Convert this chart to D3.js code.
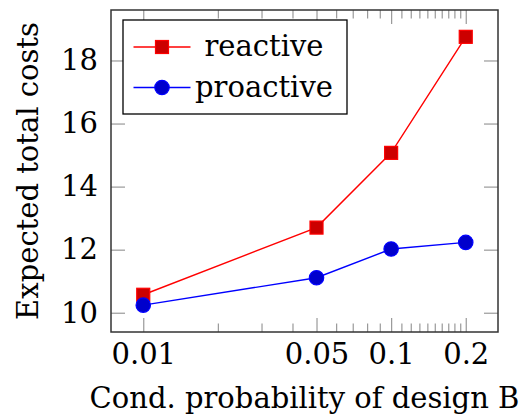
<!DOCTYPE html>
<html>
<head>
<meta charset="utf-8">
<script src="https://cdn.jsdelivr.net/npm/d3@7"></script>
<style>
  body { margin: 0; background: #fff; }
</style>
</head>
<body>
<div id="chart"></div>
<script>
// data
var probs = [0.01, 0.05, 0.1, 0.2];
var reactive = [10.57, 12.70, 15.07, 18.75];
var proactive = [10.24, 11.11, 12.02, 12.23];
var yTicks = [10, 12, 14, 16, 18];
var xTicks = [0.01, 0.05, 0.1, 0.2];
var xMinor = [0.02, 0.03, 0.04, 0.06, 0.07, 0.08, 0.09,
	0.11, 0.12, 0.13, 0.14, 0.15, 0.16, 0.17, 0.18, 0.19];
var seriesNames = ["reactive", "proactive"];

var svgWidth = 519;
var svgHeight = 417;
var margin = {top: 10, right: 21, bottom: 85, left: 111};
var width = svgWidth - margin.left - margin.right;
var height = svgHeight - margin.top - margin.bottom;
var fs = 29;
var serif = "DejaVu Serif";

var svg = d3.select("#chart")
	.append("svg")
	.attr("width", svgWidth)
	.attr("height", svgHeight)
	.attr("font-family", serif)
	.append("g")
	.attr("transform", "translate(" + margin.left + "," + margin.top + ")");

// enlarge limits by 10% like pgfplots
var lx = [Math.log10(d3.min(probs)), Math.log10(d3.max(probs))];
var ex = (lx[1] - lx[0]) * 0.1;
var x = d3.scaleLog()
	.domain([Math.pow(10, lx[0] - ex), Math.pow(10, lx[1] + ex)])
	.range([0, width]);

var allY = reactive.concat(proactive);
var ly = [d3.min(allY), d3.max(allY)];
var ey = (ly[1] - ly[0]) * 0.1;
var y = d3.scaleLinear()
	.domain([ly[0] - ey, ly[1] + ey])
	.range([height, 0]);

function styleTicks(g, col) {
	g.attr("font-family", serif);
	g.select(".domain").remove();
	g.selectAll(".tick line").attr("stroke", col).attr("stroke-width", 1.2);
	g.selectAll(".tick text")
		.attr("fill", "#000")
		.attr("font-family", serif)
		.style("font-size", fs + "px");
}

// minor x ticks, bottom and top
svg.append("g")
	.attr("transform", "translate(0," + height + ")")
	.call(d3.axisBottom(x).tickValues(xMinor).tickSize(-8.5).tickFormat(""))
	.call(styleTicks, "#999");
svg.append("g")
	.call(d3.axisTop(x).tickValues(xMinor).tickSize(-8.5).tickFormat(""))
	.call(styleTicks, "#999");

// major x ticks
svg.append("g")
	.attr("transform", "translate(0," + height + ")")
	.call(d3.axisBottom(x).tickValues(xTicks).tickSize(-14).tickPadding(11)
		.tickFormat(function(d) { return String(d); }))
	.call(styleTicks, "#999");
svg.append("g")
	.call(d3.axisTop(x).tickValues(xTicks).tickSize(-14).tickFormat(""))
	.call(styleTicks, "#999");

// y ticks
svg.append("g")
	.call(d3.axisLeft(y).tickValues(yTicks).tickSize(-14).tickPadding(13))
	.call(styleTicks, "#999");
svg.append("g")
	.attr("transform", "translate(" + width + ",0)")
	.call(d3.axisRight(y).tickValues(yTicks).tickSize(-14).tickFormat(""))
	.call(styleTicks, "#999");

// frame
svg.append("rect")
	.attr("width", width)
	.attr("height", height)
	.attr("fill", "none")
	.attr("stroke", "#333")
	.attr("stroke-width", 1.5);

// axis titles
svg.append("text")
	.attr("x", width / 2)
	.attr("y", height + 76)
	.attr("text-anchor", "middle")
	.style("font-size", fs + "px")
	.text("Cond. probability of design B");

svg.append("text")
	.attr("transform", "rotate(-90)")
	.attr("x", -height / 2)
	.attr("y", -73)
	.attr("text-anchor", "middle")
	.style("font-size", fs + "px")
	.text("Expected total costs");

var line = d3.line()
	.x(function(d) { return x(d[0]); })
	.y(function(d) { return y(d[1]); });

var redPts = probs.map(function(p, i) { return [p, reactive[i]]; });
var bluePts = probs.map(function(p, i) { return [p, proactive[i]]; });

svg.append("path")
	.datum(redPts)
	.attr("fill", "none")
	.attr("stroke", "#ff0000")
	.attr("stroke-width", 1.4)
	.attr("d", line);

svg.append("path")
	.datum(bluePts)
	.attr("fill", "none")
	.attr("stroke", "#0000ff")
	.attr("stroke-width", 1.4)
	.attr("d", line);

var sq = 13;
svg.selectAll(".sq")
	.data(redPts)
	.enter().append("rect")
	.attr("x", function(d) { return x(d[0]) - sq / 2; })
	.attr("y", function(d) { return y(d[1]) - sq / 2; })
	.attr("width", sq)
	.attr("height", sq)
	.attr("fill", "#cc0000")
	.attr("stroke", "#ff0000")
	.attr("stroke-width", 1.2);

svg.selectAll(".dot")
	.data(bluePts)
	.enter().append("circle")
	.attr("cx", function(d) { return x(d[0]); })
	.attr("cy", function(d) { return y(d[1]); })
	.attr("r", 7.2)
	.attr("fill", "#0000cc")
	.attr("stroke", "#0000ff")
	.attr("stroke-width", 1.2);

// legend
var leg = svg.append("g").attr("transform", "translate(12,10)");
leg.append("rect")
	.attr("width", 224)
	.attr("height", 94)
	.attr("fill", "#fff")
	.attr("stroke", "#000")
	.attr("stroke-width", 1.3);

seriesNames.forEach(function(name, i) {
	var cy = 27 + i * 40.5;
	var col = i == 0 ? "#ff0000" : "#0000ff";
	leg.append("line")
		.attr("x1", 10.5).attr("x2", 67.5)
		.attr("y1", cy).attr("y2", cy)
		.attr("stroke", col)
		.attr("stroke-width", 1.4);
	if (i == 0) {
		leg.append("rect")
			.attr("x", 39 - sq / 2).attr("y", cy - sq / 2)
			.attr("width", sq).attr("height", sq)
			.attr("fill", "#cc0000")
			.attr("stroke", "#ff0000")
			.attr("stroke-width", 1.2);
	} else {
		leg.append("circle")
			.attr("cx", 39).attr("cy", cy).attr("r", 7.2)
			.attr("fill", "#0000cc")
			.attr("stroke", "#0000ff")
			.attr("stroke-width", 1.2);
	}
	leg.append("text")
		.attr("x", 141)
		.attr("y", cy)
		.attr("dy", "0.32em")
		.attr("text-anchor", "middle")
		.style("font-size", fs + "px")
		.text(name);
});
</script>
</body>
</html>
